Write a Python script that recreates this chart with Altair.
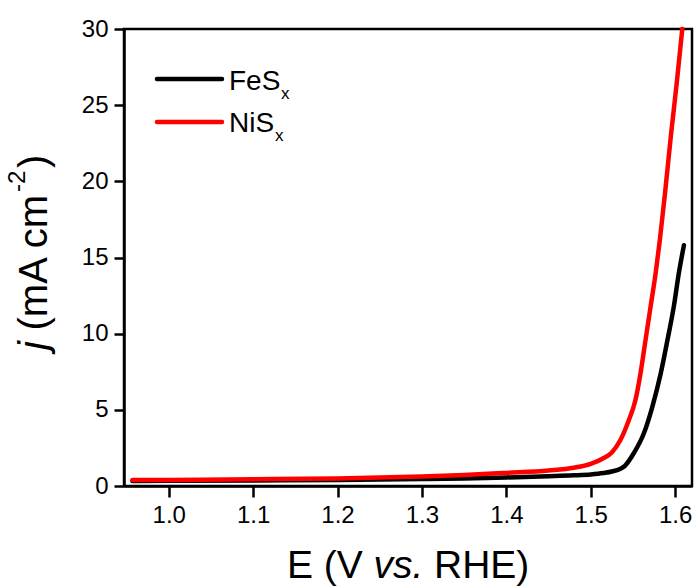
import altair as alt
import pandas as pd

FONT = "Liberation Sans"

# ---- data ----
nis_E = [0.957, 1.0, 1.1, 1.2, 1.25, 1.3, 1.35, 1.4, 1.45, 1.48, 1.50, 1.515, 1.525,
         1.535, 1.545, 1.553, 1.559, 1.565, 1.571, 1.577, 1.582, 1.588, 1.595, 1.602, 1.6085]
nis_j = [0.39, 0.40, 0.44, 0.50, 0.55, 0.62, 0.72, 0.86, 1.02, 1.2, 1.45, 1.82, 2.2,
         3.0, 4.3, 5.65, 7.4, 9.6, 11.8, 14.0, 16.2, 19.2, 23.0, 26.5, 30.0]

fes_E = [0.957, 1.0, 1.1, 1.2, 1.3, 1.35, 1.4, 1.45, 1.48, 1.50, 1.515, 1.525, 1.54,
         1.551, 1.563, 1.573, 1.583, 1.591, 1.5985, 1.6045, 1.6104]
fes_j = [0.33, 0.34, 0.36, 0.40, 0.46, 0.50, 0.56, 0.64, 0.70, 0.76, 0.85, 0.95, 1.3,
         2.15, 3.46, 5.2, 7.4, 9.6, 11.8, 14.0, 15.8]

x_ticks = [1.0, 1.1, 1.2, 1.3, 1.4, 1.5, 1.6]
y_ticks = [0, 5, 10, 15, 20, 25, 30]
series_names = ["FeS", "NiS"]
series_colors = ["#000000", "#ff0000"]

W, H = 568, 457

fes = pd.DataFrame({"E": fes_E, "j": fes_j})
nis = pd.DataFrame({"E": nis_E, "j": nis_j})

xscale = alt.Scale(domain=[0.947, 1.62], nice=False, zero=False)
yscale = alt.Scale(domain=[0, 30], nice=False, zero=False)

AX = dict(labelFont=FONT, labelFontSize=24, labelColor="black", tickColor="black",
          tickWidth=2.5, domainColor="black", domainWidth=2.5, grid=False, title=None)
xaxis = alt.Axis(values=x_ticks, format=".1f", tickSize=11, labelPadding=6, **AX)
yaxis = alt.Axis(values=y_ticks, tickSize=10, labelPadding=6, **AX)


def curve(df, color):
    return alt.Chart(df).mark_line(color=color, strokeWidth=4.5, strokeCap="round",
                                   strokeJoin="round", interpolate="monotone").encode(
        x=alt.X("E:Q", scale=xscale, axis=xaxis),
        y=alt.Y("j:Q", scale=yscale, axis=yaxis),
    )


def txt(s, x, y, size, **kw):
    return alt.Chart(pd.DataFrame({"t": [s]})).mark_text(
        font=FONT, fontSize=size, color="black", align="left",
        baseline="alphabetic", **kw
    ).encode(text="t:N", x=alt.value(x), y=alt.value(y))


def leg_line(y, color):
    return alt.Chart(pd.DataFrame({"t": [0]})).mark_rule(
        color=color, strokeWidth=4.5, strokeCap="round"
    ).encode(x=alt.value(33), x2=alt.value(98), y=alt.value(y))


layers = [
    curve(fes, series_colors[0]),
    curve(nis, series_colors[1]),
    # legend
    leg_line(50, series_colors[0]),
    leg_line(93, series_colors[1]),
    txt(series_names[0], 105, 61, 28),
    txt("x", 157, 70, 17),
    txt(series_names[1], 105, 103, 28),
    txt("x", 151, 112, 17),
    # x title
    txt("E (V", 163, 549, 39),
    txt("vs.", 249.5, 549, 39, fontStyle="italic"),
    txt("RHE)", 310, 549, 39),
    # y title
    txt("j", -77, 321, 40, angle=270, fontStyle="italic"),
    txt("(mA cm", -77, 301.5, 40, angle=270),
    txt("-2", -99, 163, 24, angle=270),
    txt(")", -77, 139, 40, angle=270),
]

chart = alt.layer(*layers).properties(
    width=W, height=H,
    background="white",
    autosize=alt.AutoSizeParams(type="none"),
    padding={"left": 124, "top": 29, "right": 5, "bottom": 102},
).configure_view(
    stroke="black", strokeWidth=2.5
)

chart.save("out.html", embed_options={"renderer": "svg", "actions": False})
